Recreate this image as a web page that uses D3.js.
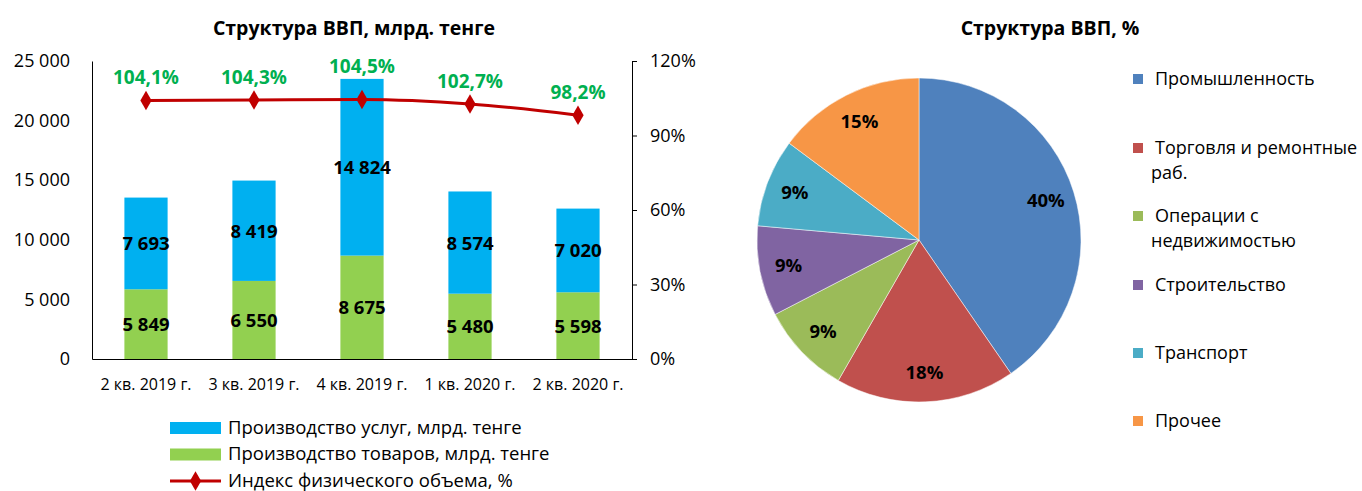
<!DOCTYPE html>
<html>
<head>
<meta charset="utf-8">
<script src="https://cdn.jsdelivr.net/npm/d3@7"></script>
<style>
  body { margin: 0; background: #fff; }
  svg { font-family: "Open Sans", "DejaVu Sans", sans-serif; }
</style>
</head>
<body>
<div id="chart-container"></div>
<script>
// bar chart data
const quarters = ["2 кв. 2019 г.", "3 кв. 2019 г.", "4 кв. 2019 г.", "1 кв. 2020 г.", "2 кв. 2020 г."];
const goods = [5849, 6550, 8675, 5480, 5598];
const services = [7693, 8419, 14824, 8574, 7020];
const volumeIndex = [104.1, 104.3, 104.5, 102.7, 98.2];
const leftTicks = [0, 5000, 10000, 15000, 20000, 25000];
const rightTicks = [0, 30, 60, 90, 120];

// pie data
const sectors = ["Промышленность", "Торговля и ремонтные раб.", "Операции с недвижимостью", "Строительство", "Транспорт", "Прочее"];
const sectorShares = [40.4, 17.9, 9.1, 9.0, 8.8, 14.8];

const width = 1362, height = 491;
const margin = ({top: 61, right: 730, bottom: 132, left: 92});

const svg = d3.select("#chart-container")
    .append("svg")
    .attr("width", width)
    .attr("height", height);

const fmt = v => d3.format(",")(v).replace(/,/g, " ");
const pct = v => d3.format(".1f")(v).replace(".", ",") + "%";

// ---- bar chart ----
const x = d3.scaleBand()
    .domain(quarters)
    .range([margin.left, width - margin.right])
    .paddingInner(0.6)
    .paddingOuter(0.3);

const y = d3.scaleLinear()
    .domain([0, 25000])
    .range([height - margin.bottom, margin.top]);

const y2 = d3.scaleLinear()
    .domain([0, 120])
    .range([height - margin.bottom, margin.top]);

svg.append("text")
    .attr("x", 354).attr("y", 35)
    .attr("text-anchor", "middle")
    .attr("font-weight", "bold")
    .attr("font-size", 19.5)
    .text("Структура ВВП, млрд. тенге");

const stack = quarters.map((q, i) => ({q, goods: goods[i], services: services[i]}));

svg.append("g").selectAll("rect")
    .data(stack)
    .join("rect")
    .attr("x", d => x(d.q))
    .attr("width", x.bandwidth())
    .attr("y", d => y(d.goods))
    .attr("height", d => y(0) - y(d.goods))
    .attr("fill", "#92D050");

svg.append("g").selectAll("rect")
    .data(stack)
    .join("rect")
    .attr("x", d => x(d.q))
    .attr("width", x.bandwidth())
    .attr("y", d => y(d.goods + d.services))
    .attr("height", d => y(d.goods) - y(d.goods + d.services))
    .attr("fill", "#00B0F0");

// value labels
const labelG = svg.append("g")
    .attr("font-weight", "bold")
    .attr("font-size", 18.5)
    .attr("text-anchor", "middle");

labelG.selectAll(".lg")
    .data(stack)
    .join("text")
    .attr("x", d => x(d.q) + x.bandwidth() / 2)
    .attr("y", d => y(d.goods / 2) + 7)
    .text(d => fmt(d.goods));

labelG.selectAll(".ls")
    .data(stack)
    .join("text")
    .attr("x", d => x(d.q) + x.bandwidth() / 2)
    .attr("y", d => y(d.goods + d.services / 2) + 7)
    .text(d => fmt(d.services));

// axes
svg.append("g")
    .attr("transform", `translate(${margin.left},0)`)
    .call(d3.axisLeft(y).tickValues(leftTicks).tickSize(0).tickPadding(22).tickFormat(fmt))
    .call(g => g.select(".domain").attr("stroke", "#000"))
    .call(g => g.selectAll("text").attr("font-size", 18).attr("font-family", "Open Sans").attr("fill", "#000"));

svg.append("g")
    .attr("transform", `translate(${width - margin.right},0)`)
    .call(d3.axisRight(y2).tickValues(rightTicks).tickSize(5).tickPadding(13).tickFormat(d => d + "%"))
    .call(g => g.selectAll("line, .domain").attr("stroke", "#000"))
    .call(g => g.selectAll("text").attr("font-size", 18).attr("font-family", "Open Sans").attr("fill", "#000"));

svg.append("g")
    .attr("transform", `translate(0,${height - margin.bottom})`)
    .call(d3.axisBottom(x).tickSize(0).tickPadding(20))
    .call(g => g.select(".domain").attr("stroke", "#000"))
    .call(g => g.selectAll("text").attr("font-size", 16).attr("font-family", "Open Sans").attr("fill", "#000"));

// index line
const lineData = quarters.map((q, i) => ({q, v: volumeIndex[i], total: goods[i] + services[i]}));
const cx = d => x(d.q) + x.bandwidth() / 2;

svg.append("path")
    .datum(lineData)
    .attr("fill", "none")
    .attr("stroke", "#C00000")
    .attr("stroke-width", 3)
    .attr("d", d3.line().x(cx).y(d => y2(d.v)).curve(d3.curveMonotoneX));

const diamond = d3.symbol().type(d3.symbolDiamond).size(110);

svg.append("g").selectAll("path")
    .data(lineData)
    .join("path")
    .attr("transform", d => `translate(${cx(d)},${y2(d.v)})`)
    .attr("d", diamond)
    .attr("fill", "#C00000");

// keep the label clear of a tall bar
svg.append("g").selectAll("text")
    .data(lineData)
    .join("text")
    .attr("x", cx)
    .attr("y", d => Math.min(y2(d.v) - 16, y(d.total) - 6))
    .attr("text-anchor", "middle")
    .attr("font-weight", "bold")
    .attr("font-size", 19)
    .attr("fill", "#00B050")
    .text(d => pct(d.v));

// bar legend
const legend = svg.append("g").attr("font-size", 18.5);
const legendItems = [
    {label: "Производство услуг, млрд. тенге", color: "#00B0F0", type: "rect"},
    {label: "Производство товаров, млрд. тенге", color: "#92D050", type: "rect"},
    {label: "Индекс физического объема, %", color: "#C00000", type: "line"}
];
legendItems.forEach((d, i) => {
    const ly = 428 + i * 26.5;
    if (d.type === "rect") {
        legend.append("rect").attr("x", 170).attr("y", ly - 6).attr("width", 51).attr("height", 12).attr("fill", d.color);
    } else {
        legend.append("line").attr("x1", 170).attr("x2", 221).attr("y1", ly).attr("y2", ly)
            .attr("stroke", d.color).attr("stroke-width", 3);
        legend.append("path").attr("transform", `translate(195.5,${ly})`).attr("d", diamond).attr("fill", d.color);
    }
    legend.append("text").attr("x", 228).attr("y", ly + 5.5).text(d.label);
});

// ---- pie chart ----
const pieColors = ["#4F81BD", "#C0504D", "#9BBB59", "#8064A2", "#4BACC6", "#F79646"];
const pieCx = 919, pieCy = 240, radius = 162;

svg.append("text")
    .attr("x", 1050).attr("y", 35)
    .attr("text-anchor", "middle")
    .attr("font-weight", "bold")
    .attr("font-size", 19.5)
    .text("Структура ВВП, %");

const pie = d3.pie().sort(null)(sectorShares);
const arc = d3.arc().innerRadius(0).outerRadius(radius);
const labelArc = d3.arc().innerRadius(radius * 0.82).outerRadius(radius * 0.82);

const pieG = svg.append("g").attr("transform", `translate(${pieCx},${pieCy})`);

pieG.selectAll("path")
    .data(pie)
    .join("path")
    .attr("d", arc)
    .attr("fill", (d, i) => pieColors[i])
    .attr("stroke", "#fff")
    .attr("stroke-width", 0.5);

pieG.selectAll("text")
    .data(pie)
    .join("text")
    .attr("transform", d => `translate(${labelArc.centroid(d)})`)
    .attr("text-anchor", "middle")
    .attr("dy", "0.35em")
    .attr("font-weight", "bold")
    .attr("font-size", 18.5)
    .text(d => Math.round(d.data) + "%");

// pie legend
const pieLegendY = [79, 148, 216, 285, 353, 421];
const pieLegend = svg.append("g").attr("font-size", 18);
sectors.forEach((s, i) => {
    const ly = pieLegendY[i];
    pieLegend.append("rect").attr("x", 1133).attr("y", ly - 5).attr("width", 10).attr("height", 10).attr("fill", pieColors[i]);
    const t = pieLegend.append("text").attr("x", 1155).attr("y", ly + 6);
    if (i === 1) {
        t.append("tspan").text("Торговля и ремонтные");
        t.append("tspan").attr("x", 1151).attr("dy", 25).text("раб.");
    } else if (i === 2) {
        t.append("tspan").text("Операции с");
        t.append("tspan").attr("x", 1151).attr("dy", 25).text("недвижимостью");
    } else {
        t.text(s);
    }
});
</script>
</body>
</html>
